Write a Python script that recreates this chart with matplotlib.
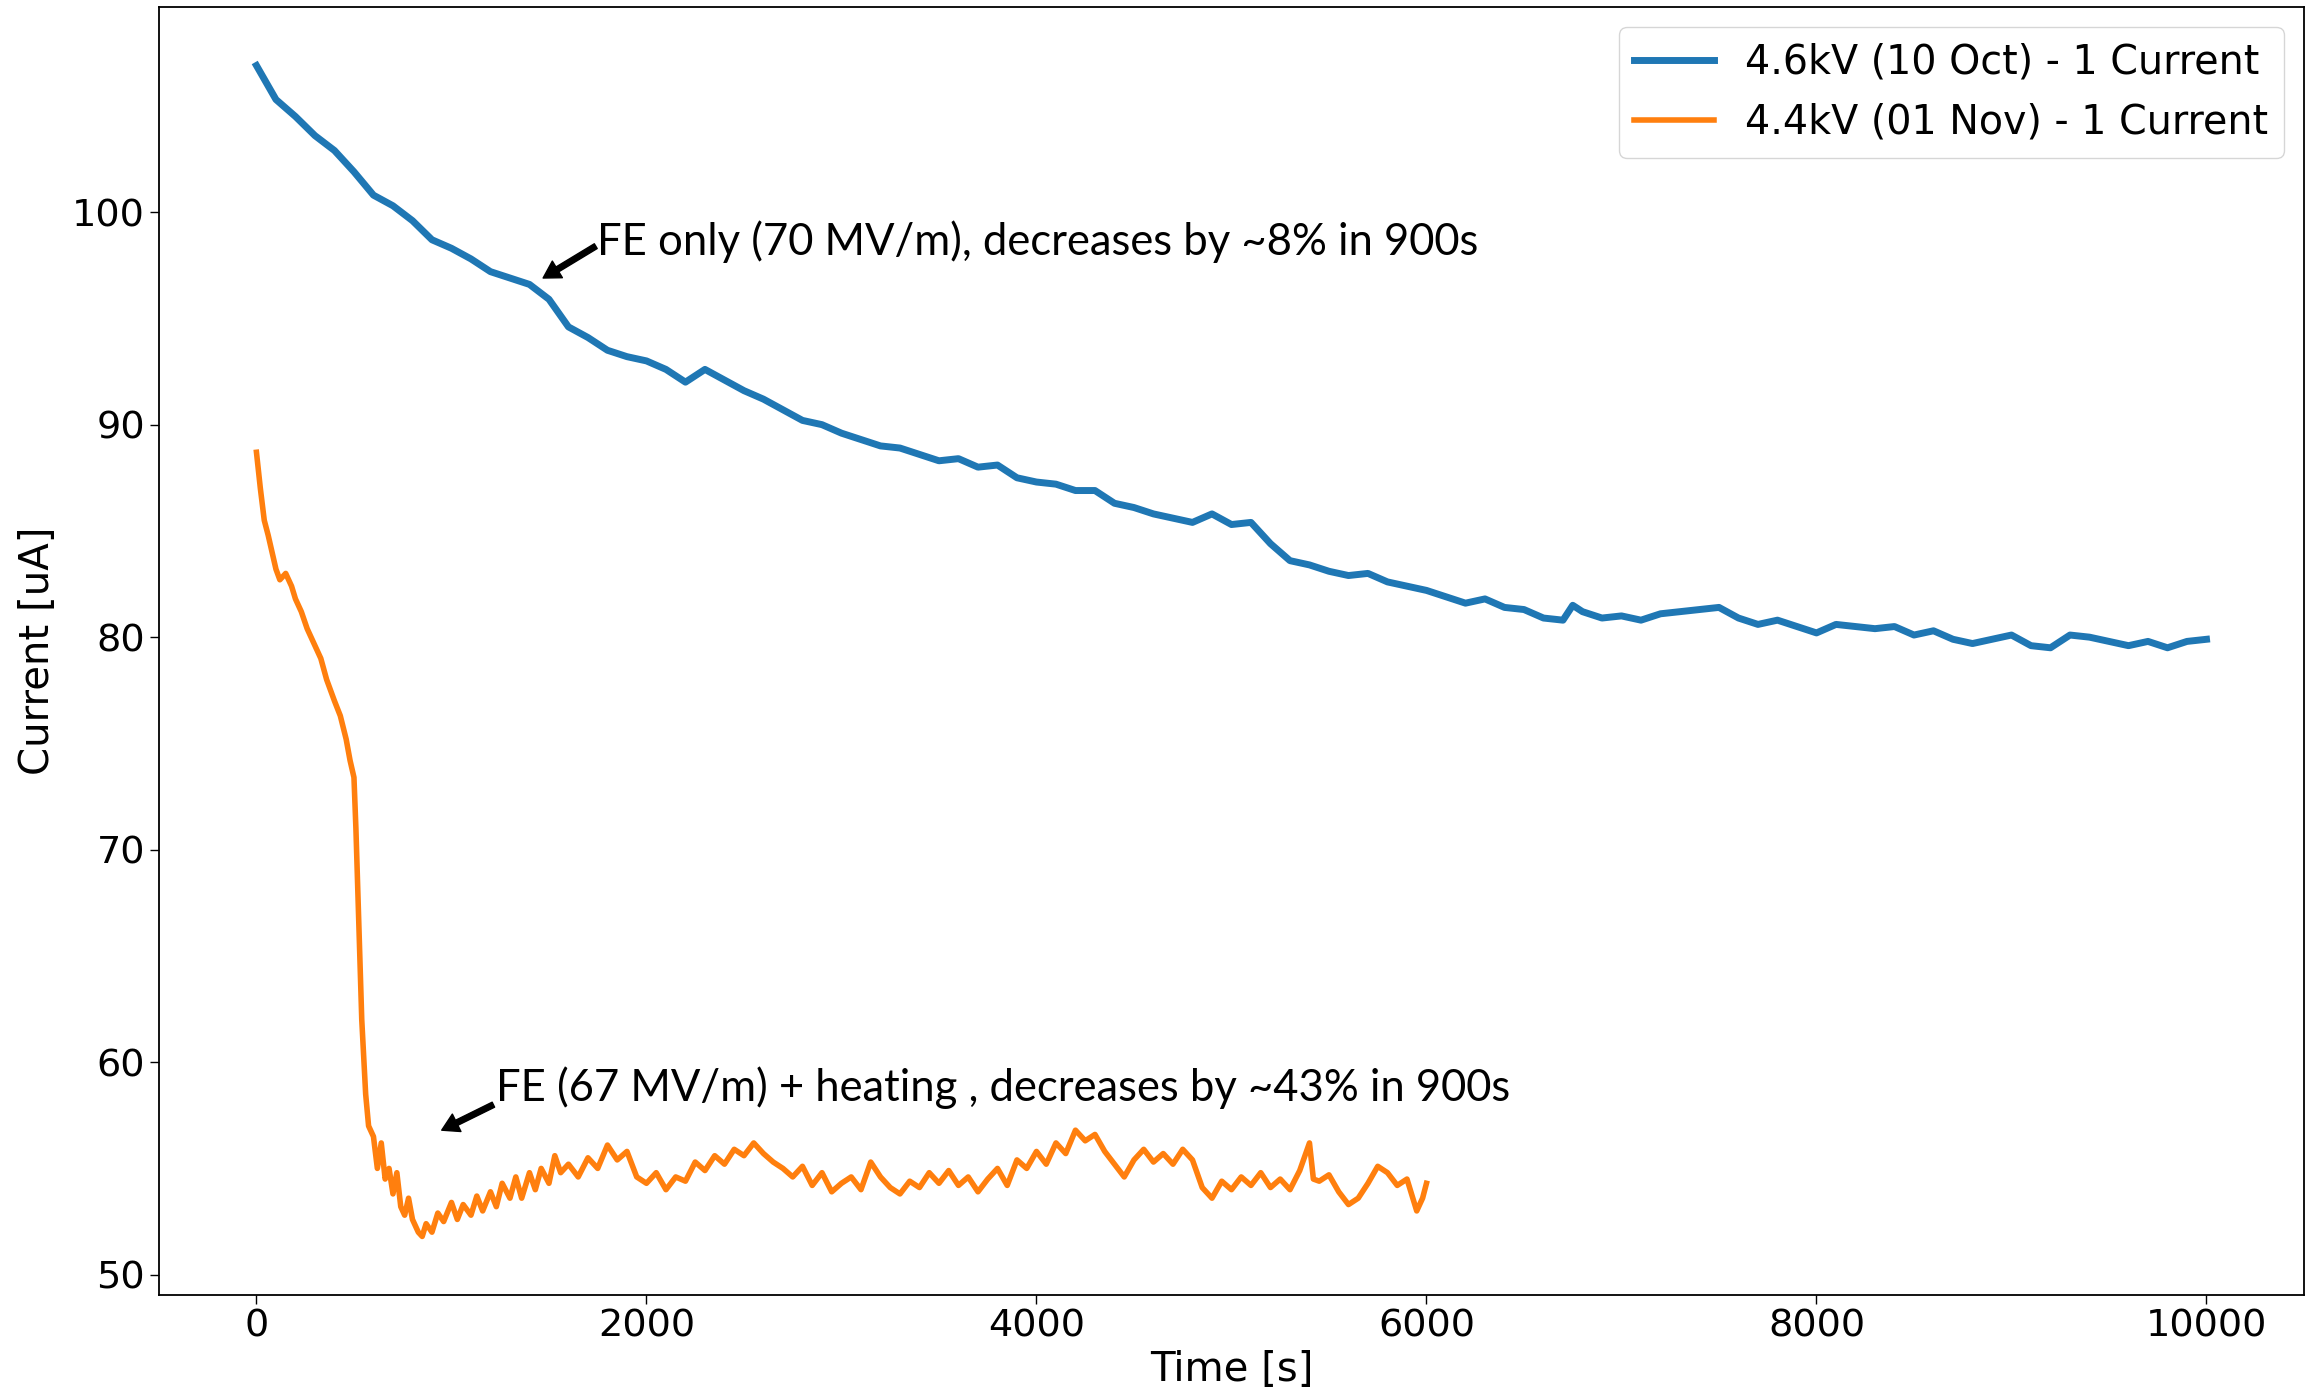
import matplotlib
matplotlib.use("Agg")
import matplotlib.pyplot as plt

# Run of 10 Oct, 4.6 kV: current vs time
blue_t = [0, 100, 200, 300, 400, 500, 600, 700, 800, 900,
          1000, 1100, 1200, 1300, 1400, 1500, 1600, 1700, 1800, 1900,
          2000, 2100, 2200, 2300, 2400, 2500, 2600, 2700, 2800, 2900,
          3000, 3100, 3200, 3300, 3400, 3500, 3600, 3700, 3800, 3900,
          4000, 4100, 4200, 4300, 4400, 4500, 4600, 4700, 4800, 4900,
          5000, 5100, 5200, 5300, 5400, 5500, 5600, 5700, 5800, 5900,
          6000, 6100, 6200, 6300, 6400, 6500, 6600, 6700, 6750, 6800,
          6900, 7000, 7100, 7200, 7300, 7400, 7500, 7600, 7700, 7800,
          7900, 8000, 8100, 8200, 8300, 8400, 8500, 8600, 8700, 8800,
          8900, 9000, 9100, 9200, 9300, 9400, 9500, 9600, 9700, 9800,
          9900, 10000]
blue_i = [106.9, 105.3, 104.5, 103.6, 102.9, 101.9, 100.8, 100.3, 99.6, 98.7,
          98.3, 97.8, 97.2, 96.9, 96.6, 95.9, 94.6, 94.1, 93.5, 93.2,
          93.0, 92.6, 92.0, 92.6, 92.1, 91.6, 91.2, 90.7, 90.2, 90.0,
          89.6, 89.3, 89.0, 88.9, 88.6, 88.3, 88.4, 88.0, 88.1, 87.5,
          87.3, 87.2, 86.9, 86.9, 86.3, 86.1, 85.8, 85.6, 85.4, 85.8,
          85.3, 85.4, 84.4, 83.6, 83.4, 83.1, 82.9, 83.0, 82.6, 82.4,
          82.2, 81.9, 81.6, 81.8, 81.4, 81.3, 80.9, 80.8, 81.5, 81.2,
          80.9, 81.0, 80.8, 81.1, 81.2, 81.3, 81.4, 80.9, 80.6, 80.8,
          80.5, 80.2, 80.6, 80.5, 80.4, 80.5, 80.1, 80.3, 79.9, 79.7,
          79.9, 80.1, 79.6, 79.5, 80.1, 80.0, 79.8, 79.6, 79.8, 79.5,
          79.8, 79.9]

# Run of 01 Nov, 4.4 kV: current vs time
orange_t = [0, 20, 40, 60, 80, 100, 120, 150, 180, 200,
            230, 260, 300, 330, 360, 400, 430, 460, 480, 500,
            510, 520, 530, 540, 550, 560, 575, 600, 620, 640,
            660, 680, 700, 720, 740, 760, 780, 800, 830, 850,
            870, 900, 930, 960, 1000, 1030, 1060, 1100, 1130, 1160,
            1200, 1230, 1260, 1300, 1330, 1360, 1400, 1430, 1460, 1500,
            1530, 1560, 1600, 1650, 1700, 1750, 1800, 1850, 1900, 1950,
            2000, 2050, 2100, 2150, 2200, 2250, 2300, 2350, 2400, 2450,
            2500, 2550, 2600, 2650, 2700, 2750, 2800, 2850, 2900, 2950,
            3000, 3050, 3100, 3150, 3200, 3250, 3300, 3350, 3400, 3450,
            3500, 3550, 3600, 3650, 3700, 3750, 3800, 3850, 3900, 3950,
            4000, 4050, 4100, 4150, 4200, 4250, 4300, 4350, 4400, 4450,
            4500, 4550, 4600, 4650, 4700, 4750, 4800, 4850, 4900, 4950,
            5000, 5050, 5100, 5150, 5200, 5250, 5300, 5350, 5400, 5420,
            5450, 5500, 5550, 5600, 5650, 5700, 5750, 5800, 5850, 5900,
            5950, 5980, 6000]
orange_i = [88.7, 87.0, 85.5, 84.8, 84.0, 83.2, 82.7, 83.0, 82.4, 81.8,
            81.2, 80.4, 79.6, 79.0, 78.0, 77.0, 76.3, 75.2, 74.2, 73.4,
            71.0, 68.0, 65.0, 62.0, 60.2, 58.5, 57.0, 56.5, 55.0, 56.2,
            54.5, 55.0, 53.8, 54.8, 53.2, 52.8, 53.6, 52.6, 52.0, 51.8,
            52.4, 52.0, 52.9, 52.5, 53.4, 52.6, 53.3, 52.8, 53.7, 53.0,
            53.9, 53.2, 54.3, 53.6, 54.6, 53.6, 54.8, 54.0, 55.0, 54.3,
            55.6, 54.8, 55.2, 54.6, 55.5, 55.0, 56.1, 55.4, 55.8, 54.6,
            54.3, 54.8, 54.0, 54.6, 54.4, 55.3, 54.9, 55.6, 55.2, 55.9,
            55.6, 56.2, 55.7, 55.3, 55.0, 54.6, 55.1, 54.2, 54.8, 53.9,
            54.3, 54.6, 54.0, 55.3, 54.6, 54.1, 53.8, 54.4, 54.1, 54.8,
            54.3, 54.9, 54.2, 54.6, 53.9, 54.5, 55.0, 54.2, 55.4, 55.0,
            55.8, 55.2, 56.2, 55.7, 56.8, 56.3, 56.6, 55.8, 55.2, 54.6,
            55.4, 55.9, 55.3, 55.7, 55.2, 55.9, 55.4, 54.1, 53.6, 54.4,
            54.0, 54.6, 54.2, 54.8, 54.1, 54.5, 54.0, 54.9, 56.2, 54.5,
            54.4, 54.7, 53.9, 53.3, 53.6, 54.3, 55.1, 54.8, 54.2, 54.5,
            53.0, 53.6, 54.3]

series_labels = ["4.6kV (10 Oct) - 1 Current", "4.4kV (01 Nov) - 1 Current"]
note_fe = "FE only (70 MV/m), decreases by ~8% in 900s"
note_heat = "FE (67 MV/m) + heating , decreases by ~43% in 900s"

TICK_FS = 27.5
LABEL_FS = 29
LEGEND_FS = 28.5
NOTE_FS = 31.4

fig = plt.figure(figsize=(23.07, 13.95), dpi=100)
ax = fig.add_axes([0.0689, 0.0717, 0.9298, 0.9233])

ax.plot(blue_t, blue_i, color="#1f77b4", lw=5.0, label=series_labels[0])
ax.plot(orange_t, orange_i, color="#ff7f0e", lw=4.0, label=series_labels[1])

ax.set_xlabel("Time [s]", fontsize=LABEL_FS, labelpad=4)
ax.set_ylabel("Current [uA]", fontsize=LABEL_FS, labelpad=10)
ax.tick_params(labelsize=TICK_FS, length=6.5, width=1.0)
for s in ax.spines.values():
    s.set_linewidth(1.3)
ax.set_yticks([50, 60, 70, 80, 90, 100])

leg = ax.legend(loc="upper right", fontsize=LEGEND_FS, handlelength=2.0,
                borderaxespad=0.5)

arrow = dict(facecolor="black", edgecolor="black", width=4, headwidth=14,
             headlength=12, shrink=0)
ax.annotate("", xy=(1470, 96.9), xytext=(1740, 98.4), arrowprops=arrow)
ax.text(1745, 98.6, note_fe, fontsize=NOTE_FS, family="Lato",
        va="center", ha="left")
ax.annotate("", xy=(950, 56.8), xytext=(1215, 58.0), arrowprops=arrow)
ax.text(1228, 58.8, note_heat, fontsize=NOTE_FS, family="Lato",
        va="center", ha="left")

fig.savefig("out.png", dpi=100)
